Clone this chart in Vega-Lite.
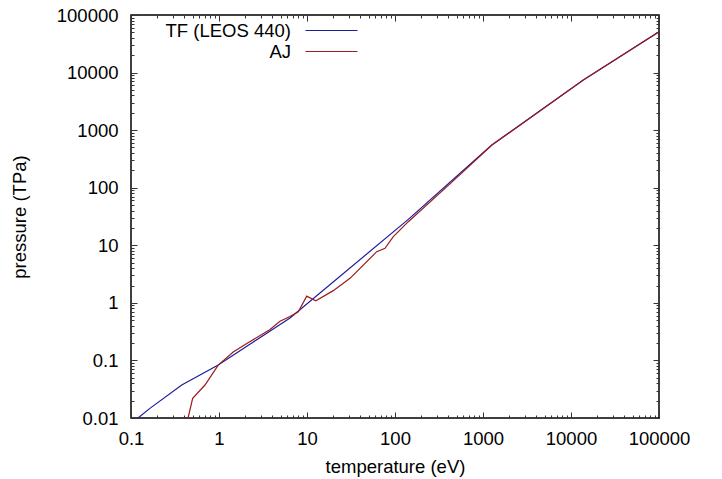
{
  "$schema": "https://vega.github.io/schema/vega-lite/v6.json",
  "width": 528,
  "height": 403,
  "autosize": "none",
  "padding": {"left": 131, "top": 15, "right": 63, "bottom": 61},
  "background": "white",
  "config": {
    "view": {"stroke": "black", "strokeWidth": 1.5},
    "font": "Liberation Sans",
    "axis": {
      "grid": false,
      "domain": false,
      "labelFont": "Liberation Sans",
      "labelFontSize": 18.5,
      "labelColor": "black",
      "titleFont": "Liberation Sans",
      "titleFontSize": 18.5,
      "titleFontWeight": "normal",
      "titleColor": "black",
      "tickColor": "#333333",
      "tickWidth": 1,
      "labelOverlap": false,
      "labelFlush": false
    }
  },
  "data": {
    "values": [
      {"series": "TF (LEOS 440)", "T": 0.12, "P": 0.0100},
      {"series": "TF (LEOS 440)", "T": 0.164, "P": 0.0147},
      {"series": "TF (LEOS 440)", "T": 0.377, "P": 0.0374},
      {"series": "TF (LEOS 440)", "T": 0.98, "P": 0.083},
      {"series": "TF (LEOS 440)", "T": 2.07, "P": 0.176},
      {"series": "TF (LEOS 440)", "T": 3.63, "P": 0.31},
      {"series": "TF (LEOS 440)", "T": 6.41, "P": 0.546},
      {"series": "TF (LEOS 440)", "T": 141.6, "P": 28.2},
      {"series": "TF (LEOS 440)", "T": 1256, "P": 552},
      {"series": "TF (LEOS 440)", "T": 13800, "P": 7430},
      {"series": "TF (LEOS 440)", "T": 100000, "P": 51300},
      {"series": "AJ", "T": 0.445, "P": 0.0100},
      {"series": "AJ", "T": 0.502, "P": 0.0220},
      {"series": "AJ", "T": 0.693, "P": 0.0374},
      {"series": "AJ", "T": 0.98, "P": 0.083},
      {"series": "AJ", "T": 1.45, "P": 0.14},
      {"series": "AJ", "T": 2.07, "P": 0.197},
      {"series": "AJ", "T": 3.80, "P": 0.345},
      {"series": "AJ", "T": 4.93, "P": 0.48},
      {"series": "AJ", "T": 6.41, "P": 0.58},
      {"series": "AJ", "T": 7.96, "P": 0.70},
      {"series": "AJ", "T": 9.93, "P": 1.31},
      {"series": "AJ", "T": 12.6, "P": 1.09},
      {"series": "AJ", "T": 19.9, "P": 1.63},
      {"series": "AJ", "T": 30.8, "P": 2.67},
      {"series": "AJ", "T": 62, "P": 7.74},
      {"series": "AJ", "T": 77, "P": 8.87},
      {"series": "AJ", "T": 95.7, "P": 14.1},
      {"series": "AJ", "T": 141.6, "P": 25.7},
      {"series": "AJ", "T": 500, "P": 148},
      {"series": "AJ", "T": 1256, "P": 545},
      {"series": "AJ", "T": 13800, "P": 7430},
      {"series": "AJ", "T": 100000, "P": 51300}
    ]
  },
  "resolve": {"axis": {"x": "independent", "y": "independent"}},
  "layer": [
    {
      "mark": {"type": "line", "clip": true, "strokeWidth": 1.2},
      "encoding": {
        "x": {
          "field": "T",
          "type": "quantitative",
          "scale": {"type": "log", "domain": [0.1, 100000], "nice": false},
          "axis": {
            "title": "temperature (eV)",
            "titlePadding": 7,
            "values": [0.1,0.2,0.3,0.4,0.5,0.6,0.7,0.8,0.9,1,2,3,4,5,6,7,8,9,10,20,30,40,50,60,70,80,90,100,200,300,400,500,600,700,800,900,1000,2000,3000,4000,5000,6000,7000,8000,9000,10000,20000,30000,40000,50000,60000,70000,80000,90000,100000],
            "labelExpr": "abs(log(datum.value)/LN10 - round(log(datum.value)/LN10)) < 1e-6 ? format(datum.value, '~g') : ''",
            "tickSize": {"condition": {"test": "abs(log(datum.value)/LN10 - round(log(datum.value)/LN10)) < 1e-6", "value": -6}, "value": -3},
            "labelPadding": 17
          }
        },
        "y": {
          "field": "P",
          "type": "quantitative",
          "scale": {"type": "log", "domain": [0.01, 100000], "nice": false},
          "axis": {
            "title": "pressure (TPa)",
            "titlePadding": 27,
            "values": [0.01,0.02,0.03,0.04,0.05,0.06,0.07,0.08,0.09,0.1,0.2,0.3,0.4,0.5,0.6,0.7,0.8,0.9,1,2,3,4,5,6,7,8,9,10,20,30,40,50,60,70,80,90,100,200,300,400,500,600,700,800,900,1000,2000,3000,4000,5000,6000,7000,8000,9000,10000,20000,30000,40000,50000,60000,70000,80000,90000,100000],
            "labelExpr": "abs(log(datum.value)/LN10 - round(log(datum.value)/LN10)) < 1e-6 ? format(datum.value, '~g') : ''",
            "tickSize": {"condition": {"test": "abs(log(datum.value)/LN10 - round(log(datum.value)/LN10)) < 1e-6", "value": -6}, "value": -3},
            "labelPadding": 19
          }
        },
        "color": {
          "field": "series",
          "type": "nominal",
          "sort": ["TF (LEOS 440)", "AJ"],
          "scale": {"domain": ["TF (LEOS 440)", "AJ"], "range": ["#1c1c9c", "#9c1c1c"]},
          "legend": {
            "title": null,
            "orient": "none",
            "legendX": 165,
            "legendY": 6,
            "symbolType": "M0,0H6",
            "symbolSize": 300,
            "symbolStrokeWidth": 1.2,
            "labelAlign": "right",
            "labelOffset": -24,
            "labelFont": "Liberation Sans",
            "labelFontSize": 18.5,
            "labelColor": "black",
            "rowPadding": 2,
            "encode": {
              "symbols": {"update": {"stroke": {"scale": "color", "field": "value"}, "fill": {"value": "transparent"}}}
            }
          }
        }
      }
    },
    {
      "mark": {"type": "point", "opacity": 0},
      "encoding": {
        "x": {
          "field": "T",
          "type": "quantitative",
          "scale": {"type": "log", "domain": [0.1, 100000], "nice": false},
          "axis": {
            "orient": "top",
            "title": null,
            "labels": false,
            "values": [0.1,0.2,0.3,0.4,0.5,0.6,0.7,0.8,0.9,1,2,3,4,5,6,7,8,9,10,20,30,40,50,60,70,80,90,100,200,300,400,500,600,700,800,900,1000,2000,3000,4000,5000,6000,7000,8000,9000,10000,20000,30000,40000,50000,60000,70000,80000,90000,100000],
            "tickSize": {"condition": {"test": "abs(log(datum.value)/LN10 - round(log(datum.value)/LN10)) < 1e-6", "value": -6}, "value": -3}
          }
        },
        "y": {
          "field": "P",
          "type": "quantitative",
          "scale": {"type": "log", "domain": [0.01, 100000], "nice": false},
          "axis": {
            "orient": "right",
            "title": null,
            "labels": false,
            "values": [0.01,0.02,0.03,0.04,0.05,0.06,0.07,0.08,0.09,0.1,0.2,0.3,0.4,0.5,0.6,0.7,0.8,0.9,1,2,3,4,5,6,7,8,9,10,20,30,40,50,60,70,80,90,100,200,300,400,500,600,700,800,900,1000,2000,3000,4000,5000,6000,7000,8000,9000,10000,20000,30000,40000,50000,60000,70000,80000,90000,100000],
            "tickSize": {"condition": {"test": "abs(log(datum.value)/LN10 - round(log(datum.value)/LN10)) < 1e-6", "value": -6}, "value": -3}
          }
        }
      }
    }
  ]
}
